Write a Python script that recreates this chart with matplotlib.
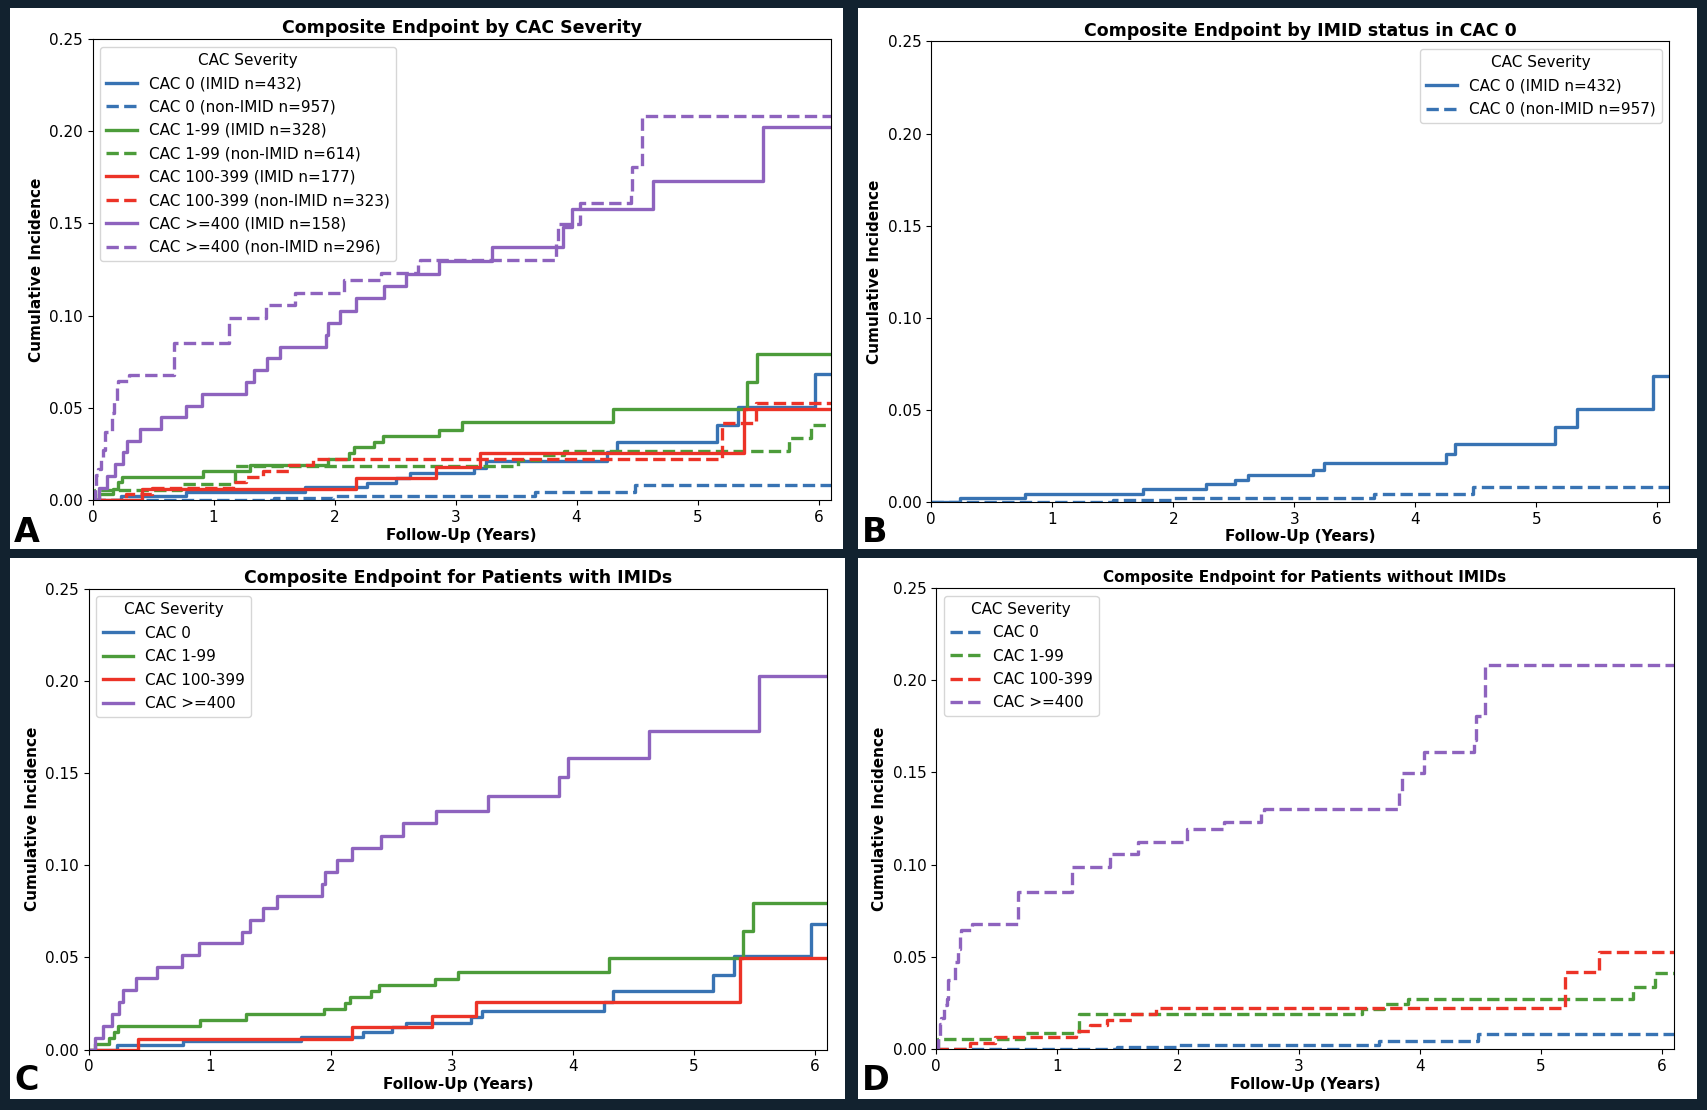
import matplotlib
matplotlib.use("Agg")
import matplotlib.pyplot as plt
from matplotlib.patches import Rectangle

# ---------------- data ----------------
groups = ["CAC 0", "CAC 1-99", "CAC 100-399", "CAC >=400"]
n_imid = [432, 328, 177, 158]
n_non = [957, 614, 323, 296]
follow_up_end = 6.2

cac0_imid_t = [0.235, 0.775, 1.752, 2.27, 2.51, 2.62, 3.156, 3.25, 4.255, 4.332, 5.158, 5.337, 5.968]
cac0_imid_ci = [0.0023, 0.0046, 0.0070, 0.0095, 0.0120, 0.0145, 0.0175, 0.0210, 0.0260, 0.0316, 0.0405, 0.0505, 0.0682]

cac0_non_t = [1.50, 1.99, 3.66, 4.48]
cac0_non_ci = [0.0011, 0.0023, 0.0044, 0.0080]

cac1_imid_t = [0.05, 0.17, 0.21, 0.245, 0.915, 1.30, 1.947, 2.12, 2.16, 2.33, 2.40, 2.86, 3.054, 4.30, 5.41, 5.49]
cac1_imid_ci = [0.0031, 0.0063, 0.0096, 0.0127, 0.0158, 0.0190, 0.0222, 0.0254, 0.0286, 0.0318, 0.0350,
                0.0383, 0.0422, 0.0496, 0.0643, 0.0793]

cac1_non_t = [0.02, 0.73, 1.18, 3.52, 3.70, 3.90, 5.76, 5.94]
cac1_non_ci = [0.0054, 0.0087, 0.0188, 0.0217, 0.0244, 0.0269, 0.0338, 0.0410]

cac100_imid_t = [0.41, 2.177, 2.84, 3.20, 5.384]
cac100_imid_ci = [0.0058, 0.0120, 0.0180, 0.0256, 0.0496]

cac100_non_t = [0.28, 0.49, 1.16, 1.27, 1.41, 1.62, 1.82, 5.20, 5.48]
cac100_non_ci = [0.0035, 0.0065, 0.0096, 0.0128, 0.0159, 0.0190, 0.0225, 0.0418, 0.0525]

cac400_imid_t = [0.054, 0.121, 0.189, 0.25, 0.283, 0.393, 0.565, 0.774, 0.907, 1.267, 1.33, 1.44, 1.553,
                 1.929, 1.949, 2.048, 2.177, 2.412, 2.593, 2.866, 3.298, 3.889, 3.964, 4.63, 5.539]
cac400_imid_ci = [0.0065, 0.0130, 0.0195, 0.0259, 0.0323, 0.0386, 0.0449, 0.0513, 0.0576, 0.0639, 0.0704,
                  0.0768, 0.0831, 0.0897, 0.0962, 0.1027, 0.1094, 0.1160, 0.1227, 0.1295, 0.1373, 0.1478,
                  0.1580, 0.1728, 0.2024]

cac400_non_t = [0.017, 0.03, 0.045, 0.07, 0.09, 0.10, 0.16, 0.18, 0.20, 0.21, 0.30, 0.675, 1.127, 1.435,
                1.67, 2.075, 2.38, 2.69, 2.71, 3.83, 3.85, 4.03, 4.45, 4.46, 4.54]
cac400_non_ci = [0.0068, 0.0135, 0.0169, 0.0236, 0.0270, 0.0372, 0.0473, 0.0540, 0.0608, 0.0645, 0.0678,
                 0.0850, 0.0987, 0.1056, 0.1125, 0.1194, 0.1233, 0.1272, 0.1302, 0.1400, 0.1498, 0.1612,
                 0.1675, 0.1805, 0.2081]

colors = ["#3873b3", "#4c9c3a", "#ec3327", "#8e63be"]
imid_series = [(cac0_imid_t, cac0_imid_ci), (cac1_imid_t, cac1_imid_ci),
               (cac100_imid_t, cac100_imid_ci), (cac400_imid_t, cac400_imid_ci)]
non_series = [(cac0_non_t, cac0_non_ci), (cac1_non_t, cac1_non_ci),
              (cac100_non_t, cac100_non_ci), (cac400_non_t, cac400_non_ci)]

# ---------------- figure ----------------
W, H = 1708, 1110
fig = plt.figure(figsize=(W / 100, H / 100), dpi=100, facecolor="#12222f")

FS = 11
LW = 2.4


def panel_bg(x0, y0, x1, y1):
    fig.patches.append(Rectangle((x0 / W, 1 - y1 / H), (x1 - x0) / W, (y1 - y0) / H,
                                 transform=fig.transFigure, facecolor="white",
                                 edgecolor="none", zorder=-10))


def make_ax(l, t, r, b):
    return fig.add_axes([l / W, 1 - b / H, (r - l) / W, (b - t) / H])


def step(ax, t, ci, **kw):
    xs = [0.0] + list(t) + [follow_up_end]
    ys = [0.0] + list(ci) + [ci[-1]]
    ax.plot(xs, ys, drawstyle="steps-post", lw=LW, **kw)


def style(ax, title, legend_loc="upper left", title_fs=12.5):
    ax.set_xlim(0, 6.1)
    ax.set_ylim(0, 0.25)
    ax.set_yticks([0, 0.05, 0.10, 0.15, 0.20, 0.25])
    ax.set_yticklabels(["0.00", "0.05", "0.10", "0.15", "0.20", "0.25"])
    ax.set_xticks(range(0, 7))
    ax.tick_params(labelsize=FS)
    ax.set_title(title, fontsize=title_fs, fontweight="bold", pad=4)
    ax.set_xlabel("Follow-Up (Years)", fontsize=FS, fontweight="bold", labelpad=2)
    ax.set_ylabel("Cumulative Incidence", fontsize=FS, fontweight="bold")
    ax.legend(title="CAC Severity", loc=legend_loc, fontsize=FS, title_fontsize=FS,
              labelspacing=0.55)


panel_bg(10, 8, 843, 549)
panel_bg(858, 8, 1697, 549)
panel_bg(10, 558, 845, 1099)
panel_bg(858, 558, 1697, 1099)

# Panel A
axA = make_ax(92.6, 38.9, 830.6, 500.2)
for g, n1, n2, c, s1, s2 in zip(groups, n_imid, n_non, colors, imid_series, non_series):
    step(axA, *s1, color=c, ls="-", label=f"{g} (IMID n={n1})")
    step(axA, *s2, color=c, ls="--", label=f"{g} (non-IMID n={n2})")
style(axA, "Composite Endpoint by CAC Severity")

# Panel B
axB = make_ax(931.3, 41.4, 1669.3, 502)
step(axB, *imid_series[0], color=colors[0], ls="-", label=f"{groups[0]} (IMID n={n_imid[0]})")
step(axB, *non_series[0], color=colors[0], ls="--", label=f"{groups[0]} (non-IMID n={n_non[0]})")
style(axB, "Composite Endpoint by IMID status in CAC 0", legend_loc="upper right")

# Panel C
axC = make_ax(88.8, 588.6, 826.8, 1049.5)
for g, c, s in zip(groups, colors, imid_series):
    step(axC, *s, color=c, ls="-", label=g)
style(axC, "Composite Endpoint for Patients with IMIDs")

# Panel D
axD = make_ax(936, 588, 1674, 1049)
for g, c, s in zip(groups, colors, non_series):
    step(axD, *s, color=c, ls="--", label=g)
style(axD, "Composite Endpoint for Patients without IMIDs", title_fs=11)

# panel letters
for letter, x, y in [("A", 14, 542), ("B", 862, 542), ("C", 14, 1090), ("D", 862, 1090)]:
    fig.text(x / W, 1 - y / H, letter, fontsize=24, fontweight="bold", va="baseline", ha="left")

fig.savefig("out.png", dpi=100, facecolor=fig.get_facecolor())
